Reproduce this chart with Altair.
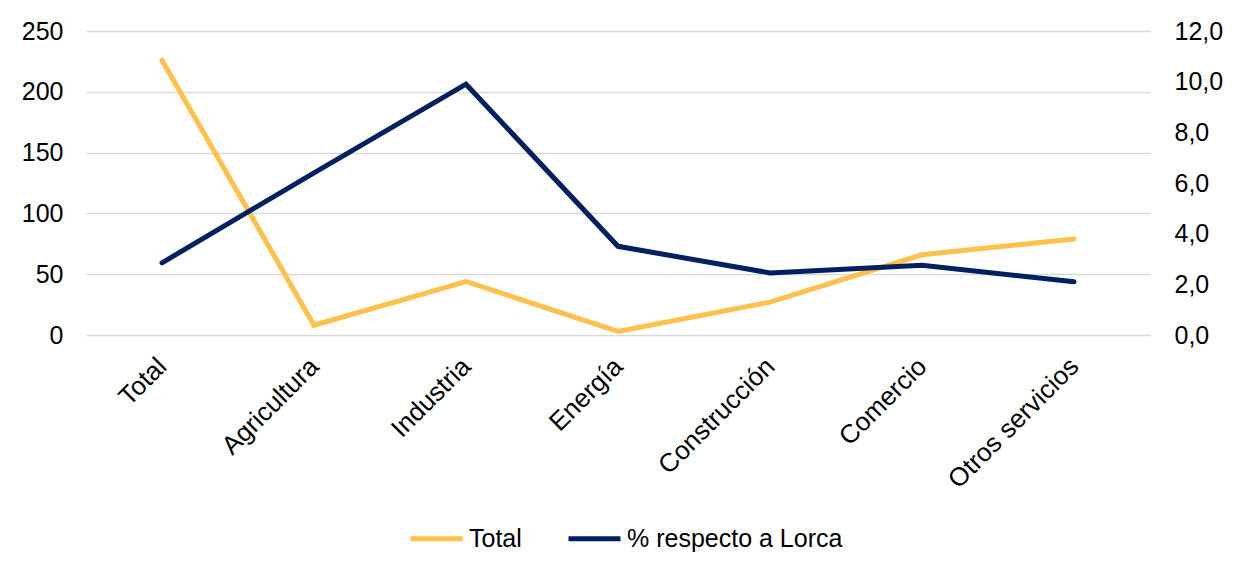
import altair as alt
import pandas as pd

categories = ["Total", "Agricultura", "Industria", "Energía", "Construcción", "Comercio", "Otros servicios"]
total_values = [226, 8, 44, 3, 27, 66, 79]
pct_values = [2.85, 6.4, 9.9, 3.5, 2.45, 2.75, 2.1]
series_names = ["Total", "% respecto a Lorca"]
series_colors = ["#FFC04C", "#002060"]
left_ticks = [0, 50, 100, 150, 200, 250]
right_ticks = [0, 2, 4, 6, 8, 10, 12]

df = pd.DataFrame({
    "categoria": categories * 2,
    "serie": [series_names[0]] * len(categories) + [series_names[1]] * len(categories),
    "valor": total_values + pct_values,
})

FONT = "Liberation Sans"
FS = 25

color = alt.Color(
    "serie:N",
    scale=alt.Scale(domain=series_names, range=series_colors),
    legend=alt.Legend(
        title=None, orient="none", direction="horizontal",
        legendX=322, legendY=479,
        symbolType="stroke", symbolSize=2704, symbolStrokeWidth=5,
        labelFont=FONT, labelFontSize=FS, labelColor="#000000",
        labelOffset=4, columnPadding=36, labelLimit=400,
    ),
)

x = alt.X(
    "categoria:N", sort=categories, title=None,
    axis=alt.Axis(labelAngle=-45, labelAlign="right", labelBaseline="middle",
                  labelPadding=27, ticks=False, domain=False, grid=False,
                  labelFont=FONT, labelFontSize=26, labelColor="#000000", labelLimit=300),
)

left = alt.Chart(df).transform_filter(alt.datum.serie == series_names[0]).mark_line(
    strokeWidth=5, strokeCap="round", strokeJoin="miter"
).encode(
    x=x,
    y=alt.Y("valor:Q", title=None,
            scale=alt.Scale(domain=[0, 250], nice=False),
            axis=alt.Axis(values=left_ticks, orient="left", ticks=False, domain=False,
                          grid=True, gridColor="#d9d9d9", gridWidth=1.5,
                          labelFont=FONT, labelFontSize=FS, labelColor="#000000",
                          labelPadding=23)),
    color=color,
)

right = alt.Chart(df).transform_filter(alt.datum.serie == series_names[1]).mark_line(
    strokeWidth=5, strokeCap="round", strokeJoin="miter"
).encode(
    x=x,
    y=alt.Y("valor:Q", title=None,
            scale=alt.Scale(domain=[0, 12], nice=False),
            axis=alt.Axis(values=right_ticks, orient="right", ticks=False, domain=False,
                          grid=False,
                          labelExpr="replace(format(datum.value, '.1f'), '.', ',')",
                          labelFont=FONT, labelFontSize=FS, labelColor="#000000",
                          labelPadding=24)),
    color=color,
)

chart = alt.layer(left, right).resolve_scale(y="independent").properties(
    width=1064, height=304,
    background="#ffffff",
    autosize=alt.AutoSizeParams(type="none"),
    padding={"left": 78, "top": 23, "right": 84, "bottom": 233},
).configure_view(stroke="transparent", strokeWidth=0)

chart.save("out.html", embed_options={"renderer": "svg", "actions": False})
